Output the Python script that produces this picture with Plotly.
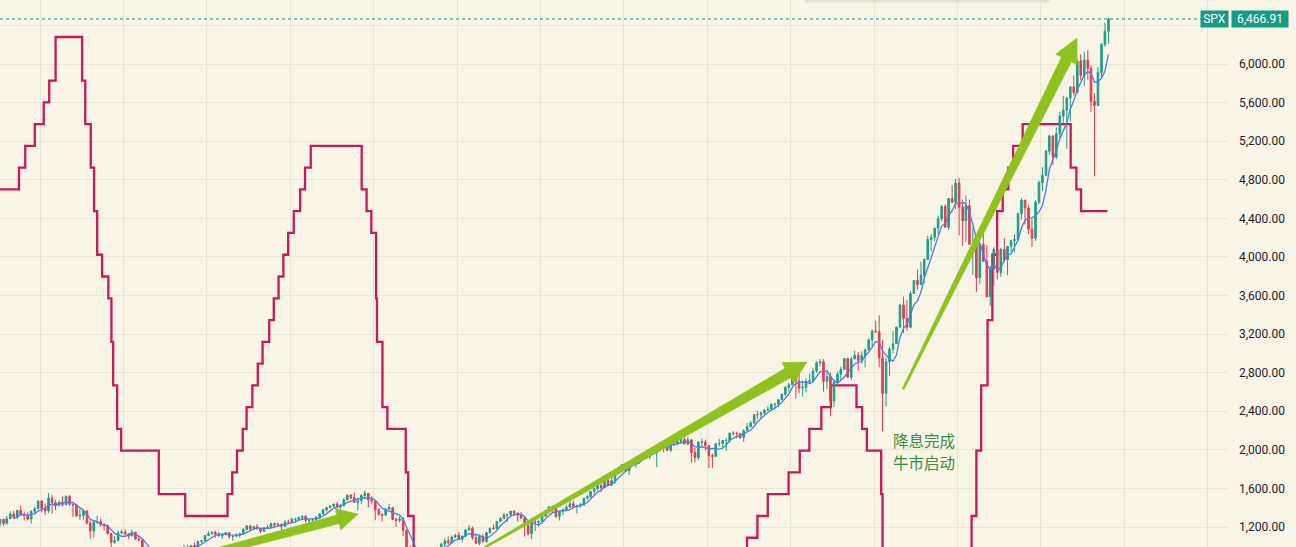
import pandas as pd
import plotly.graph_objects as go

# ---------------- data ----------------
first_open = 1229.2  # Dec-1998 close
close = [
    1279.6, 1238.3, 1286.4, 1335.2, 1301.8, 1372.7, 1328.7, 1320.4, 1282.7, 1362.9, 1388.9, 1469.3,
    1394.5, 1366.4, 1498.6, 1452.4, 1420.6, 1454.6, 1430.8, 1517.7, 1436.5, 1429.4, 1315.0, 1320.3,
    1366.0, 1239.9, 1160.3, 1249.5, 1255.8, 1224.4, 1211.2, 1133.6, 1040.9, 1059.8, 1139.5, 1148.1,
    1130.2, 1106.7, 1147.4, 1076.9, 1067.1, 989.8, 911.6, 916.1, 815.3, 885.8, 936.3, 879.8,
    855.7, 841.2, 848.2, 916.9, 963.6, 974.5, 990.3, 1008.0, 996.0, 1050.7, 1058.2, 1111.9,
    1131.1, 1144.9, 1126.2, 1107.3, 1120.7, 1140.8, 1101.7, 1104.2, 1114.6, 1130.2, 1173.8, 1211.9,
    1181.3, 1203.6, 1180.6, 1156.9, 1191.5, 1191.3, 1234.2, 1220.3, 1228.8, 1207.0, 1249.5, 1248.3,
    1280.1, 1280.7, 1294.9, 1310.6, 1270.1, 1270.2, 1276.7, 1303.8, 1335.9, 1377.9, 1400.6, 1418.3,
    1438.2, 1406.8, 1420.9, 1482.4, 1530.6, 1503.4, 1455.3, 1474.0, 1526.8, 1549.4, 1481.1, 1468.4,
    1378.6, 1330.6, 1322.7, 1385.6, 1400.4, 1280.0, 1267.4, 1282.8, 1166.4, 968.8, 896.2, 903.3,
    825.9, 735.1, 797.9, 872.8, 919.1, 919.3, 987.5, 1020.6, 1057.1, 1036.2, 1095.6, 1115.1,
    1073.9, 1104.5, 1169.4, 1186.7, 1089.4, 1030.7, 1101.6, 1049.3, 1141.2, 1183.3, 1180.6, 1257.6,
    1286.1, 1327.2, 1325.8, 1363.6, 1345.2, 1320.6, 1292.3, 1218.9, 1131.4, 1253.3, 1247.0, 1257.6,
    1312.4, 1365.7, 1408.5, 1397.9, 1310.3, 1362.2, 1379.3, 1406.6, 1440.7, 1412.2, 1416.2, 1426.2,
    1498.1, 1514.7, 1569.2, 1597.6, 1630.7, 1606.3, 1685.7, 1633.0, 1681.6, 1756.5, 1805.8, 1848.4,
    1782.6, 1859.5, 1872.3, 1883.9, 1923.6, 1960.2, 1930.7, 2003.4, 1972.3, 2018.1, 2067.6, 2058.9,
    1995.0, 2104.5, 2067.9, 2085.5, 2107.4, 2063.1, 2103.8, 1972.2, 1920.0, 2079.4, 2080.4, 2043.9,
    1940.2, 1932.2, 2059.7, 2065.3, 2096.9, 2098.9, 2173.6, 2170.9, 2168.3, 2126.2, 2198.8, 2238.8,
    2278.9, 2363.6, 2362.7, 2384.2, 2411.8, 2423.4, 2470.3, 2471.7, 2519.4, 2575.3, 2647.6, 2673.6,
    2823.8, 2713.8, 2640.9, 2648.1, 2705.3, 2718.4, 2816.3, 2901.5, 2914.0, 2711.7, 2760.2, 2506.9,
    2704.1, 2784.5, 2834.4, 2945.8, 2752.1, 2941.8, 2980.4, 2926.5, 2976.7, 3037.6, 3141.0, 3230.8,
    3225.5, 2954.2, 2584.6, 2912.4, 3044.3, 3100.3, 3271.1, 3500.3, 3363.0, 3270.0, 3621.6, 3756.1,
    3714.2, 3811.2, 3972.9, 4181.2, 4204.1, 4297.5, 4395.3, 4522.7, 4307.5, 4605.4, 4567.0, 4766.2,
    4515.6, 4373.9, 4530.4, 4131.9, 4132.2, 3785.4, 4130.3, 3955.0, 3585.6, 3872.0, 4080.1, 3839.5,
    4076.6, 3970.2, 4109.3, 4169.5, 4179.8, 4450.4, 4589.0, 4507.7, 4288.1, 4193.8, 4567.8, 4769.8,
    4845.7, 5096.3, 5254.4, 5035.7, 5277.5, 5460.5, 5522.3, 5648.4, 5762.5, 5705.5, 6032.4, 5881.6,
    6040.5, 5954.5, 5611.9, 5569.1, 5911.7, 6205.0, 6339.4, 6466.91,
]
high = [
    1283, 1283, 1316, 1362, 1368, 1376, 1421, 1360, 1358, 1373, 1410, 1474,
    1478, 1445, 1553, 1528, 1482, 1475, 1518, 1525, 1530, 1437, 1439, 1390,
    1384, 1376, 1267, 1270, 1316, 1287, 1239, 1226, 1139, 1110, 1163, 1173,
    1176, 1131, 1173, 1147, 1106, 1067, 994, 965, 924, 907, 952, 954,
    935, 864, 895, 924, 965, 1015, 1015, 1011, 1040, 1054, 1063, 1112,
    1155, 1158, 1163, 1150, 1128, 1146, 1141, 1109, 1131, 1142, 1188, 1217,
    1218, 1212, 1229, 1192, 1200, 1219, 1246, 1245, 1244, 1233, 1270, 1276,
    1295, 1297, 1311, 1319, 1326, 1284, 1281, 1306, 1340, 1390, 1407, 1431,
    1441, 1462, 1439, 1498, 1535, 1541, 1556, 1504, 1539, 1576, 1545, 1523,
    1471, 1396, 1340, 1397, 1440, 1405, 1293, 1313, 1303, 1167, 1007, 919,
    943, 876, 833, 878, 930, 957, 997, 1039, 1081, 1102, 1113, 1130,
    1150, 1113, 1181, 1220, 1205, 1131, 1120, 1129, 1150, 1196, 1228, 1263,
    1303, 1344, 1333, 1366, 1371, 1346, 1357, 1307, 1230, 1293, 1277, 1270,
    1333, 1378, 1420, 1422, 1415, 1363, 1392, 1427, 1475, 1471, 1434, 1448,
    1504, 1530, 1570, 1598, 1687, 1654, 1698, 1709, 1730, 1776, 1814, 1849,
    1851, 1868, 1884, 1897, 1925, 1968, 1991, 2006, 2019, 2019, 2075, 2094,
    2064, 2120, 2118, 2126, 2135, 2130, 2133, 2113, 2021, 2094, 2117, 2105,
    2044, 1962, 2073, 2112, 2100, 2121, 2178, 2194, 2188, 2170, 2215, 2278,
    2301, 2372, 2401, 2398, 2418, 2454, 2484, 2491, 2520, 2582, 2657, 2695,
    2873, 2836, 2801, 2718, 2742, 2791, 2848, 2917, 2941, 2940, 2815, 2800,
    2708, 2813, 2861, 2950, 2954, 2964, 3028, 3014, 3022, 3050, 3154, 3248,
    3338, 3394, 3136, 2955, 3068, 3233, 3280, 3514, 3588, 3550, 3646, 3760,
    3870, 3950, 3984, 4218, 4238, 4302, 4429, 4538, 4546, 4608, 4744, 4808,
    4819, 4595, 4637, 4594, 4307, 4178, 4141, 4325, 4120, 3906, 4100, 4101,
    4095, 4195, 4111, 4170, 4232, 4458, 4607, 4584, 4541, 4393, 4587, 4793,
    4932, 5111, 5265, 5264, 5342, 5506, 5670, 5651, 5768, 5879, 6054, 6100,
    6129, 6147, 5987, 5696, 5968, 6215, 6428, 6481,
]
low = [
    1205, 1212, 1226, 1282, 1281, 1281, 1323, 1268, 1268, 1233, 1342, 1387,
    1350, 1325, 1346, 1339, 1374, 1420, 1413, 1430, 1419, 1305, 1311, 1274,
    1275, 1228, 1081, 1091, 1232, 1203, 1165, 1124, 945, 1026, 1054, 1125,
    1101, 1074, 1106, 1064, 1049, 953, 776, 833, 815, 769, 872, 872,
    840, 807, 789, 847, 902, 962, 962, 960, 990, 995, 1032, 1055,
    1105, 1124, 1088, 1102, 1076, 1113, 1078, 1060, 1102, 1090, 1128, 1173,
    1163, 1180, 1176, 1137, 1146, 1188, 1183, 1201, 1201, 1169, 1201, 1246,
    1245, 1253, 1268, 1280, 1245, 1219, 1224, 1262, 1291, 1331, 1361, 1396,
    1403, 1390, 1364, 1416, 1476, 1484, 1454, 1371, 1439, 1490, 1407, 1435,
    1270, 1317, 1257, 1320, 1373, 1272, 1200, 1248, 1106, 840, 741, 815,
    805, 735, 667, 783, 866, 892, 869, 979, 993, 1020, 1029, 1086,
    1071, 1045, 1101, 1165, 1066, 1028, 1011, 1040, 1040, 1131, 1173, 1187,
    1257, 1290, 1249, 1303, 1312, 1258, 1283, 1101, 1114, 1075, 1159, 1202,
    1255, 1312, 1341, 1358, 1292, 1267, 1325, 1377, 1397, 1403, 1343, 1398,
    1426, 1485, 1501, 1536, 1581, 1560, 1605, 1627, 1633, 1646, 1746, 1767,
    1770, 1738, 1834, 1815, 1860, 1915, 1930, 1905, 1964, 1821, 2001, 1973,
    1988, 1980, 2039, 2048, 2067, 2056, 2044, 1867, 1872, 1893, 2019, 1993,
    1812, 1810, 1937, 2034, 2026, 1992, 2074, 2148, 2119, 2114, 2084, 2187,
    2234, 2266, 2322, 2329, 2353, 2405, 2407, 2417, 2446, 2515, 2557, 2605,
    2670, 2533, 2586, 2553, 2595, 2691, 2698, 2796, 2865, 2604, 2631, 2347,
    2444, 2681, 2722, 2848, 2750, 2728, 2952, 2822, 2892, 2856, 3030, 3070,
    3214, 2855, 2192, 2447, 2767, 2999, 3101, 3284, 3210, 3234, 3268, 3633,
    3662, 3725, 3723, 3992, 4057, 4165, 4233, 4367, 4305, 4279, 4560, 4495,
    4223, 4115, 4157, 4126, 3811, 3637, 3721, 3954, 3585, 3492, 3699, 3764,
    3794, 3944, 3809, 4049, 4048, 4167, 4385, 4335, 4238, 4104, 4167, 4547,
    4682, 4854, 5057, 4954, 5012, 5234, 5391, 5120, 5403, 5674, 5696, 5832,
    5773, 5837, 5505, 4835, 5578, 5861, 6178, 6212,
]

# Fed funds target rate (upper bound), change dates
rate_dates = [
    "1998-11-17", "1999-06-30", "1999-08-24", "1999-11-16", "2000-02-02", "2000-03-21", "2000-05-16",
    "2001-01-03", "2001-01-31", "2001-03-20", "2001-04-18", "2001-05-15", "2001-06-27", "2001-08-21",
    "2001-09-17", "2001-10-02", "2001-11-06", "2001-12-11", "2002-11-06", "2003-06-25",
    "2004-06-30", "2004-08-10", "2004-09-21", "2004-11-10", "2004-12-14", "2005-02-02", "2005-03-22",
    "2005-05-03", "2005-06-30", "2005-08-09", "2005-09-20", "2005-11-01", "2005-12-13", "2006-01-31",
    "2006-03-28", "2006-05-10", "2006-06-29", "2007-09-18", "2007-10-31", "2007-12-11", "2008-01-22",
    "2008-01-30", "2008-03-18", "2008-04-30", "2008-10-08", "2008-10-29", "2008-12-16",
    "2015-12-16", "2016-12-14", "2017-03-15", "2017-06-14", "2017-12-13", "2018-03-21", "2018-06-13",
    "2018-09-26", "2018-12-19", "2019-07-31", "2019-09-18", "2019-10-30", "2020-03-03", "2020-03-15",
    "2022-03-16", "2022-05-04", "2022-06-15", "2022-07-27", "2022-09-21", "2022-11-02", "2022-12-14",
    "2023-02-01", "2023-03-22", "2023-05-03", "2023-07-26", "2024-09-18", "2024-11-07", "2024-12-18",
    "2025-08-05",
]
rate_values = [
    4.75, 5.00, 5.25, 5.50, 5.75, 6.00, 6.50,
    6.00, 5.50, 5.00, 4.50, 4.00, 3.75, 3.50,
    3.00, 2.50, 2.00, 1.75, 1.25, 1.00,
    1.25, 1.50, 1.75, 2.00, 2.25, 2.50, 2.75,
    3.00, 3.25, 3.50, 3.75, 4.00, 4.25, 4.50,
    4.75, 5.00, 5.25, 4.75, 4.50, 4.25, 3.50,
    3.00, 2.25, 2.00, 1.50, 1.00, 0.25,
    0.50, 0.75, 1.00, 1.25, 1.50, 1.75, 2.00,
    2.25, 2.50, 2.25, 2.00, 1.75, 1.25, 0.25,
    0.50, 1.00, 1.75, 2.50, 3.25, 4.00, 4.50,
    4.75, 5.00, 5.25, 5.50, 5.00, 4.75, 4.50,
    4.50,
]

last_price = 6466.91
price_ticks = [1200, 1600, 2000, 2400, 2800, 3200, 3600, 4000, 4400, 4800, 5200, 5600, 6000, 6400]
# the 6,400 label sits under the last-price tag, so it is left blank
price_tick_text = [f"{v:,.2f}" for v in price_ticks[:-1]] + [""]

# drawn arrows (tail -> tip), in chart data units
arrow_tail_dates = ["2004-03-14", "2010-09-02", "2020-09-12"]
arrow_tail_prices = [941, 990, 2631]
arrow_tip_dates = ["2007-08-19", "2018-05-23", "2024-11-13"]
arrow_tip_prices = [1335, 2911, 6270]

note_lines = ["降息完成", "牛市启动"]
note_date = "2020-05-30"
note_prices = [2102, 1874]

# ---------------- styles ----------------
BG = "#F8F4E6"
GRID = "#E9E5D5"
UP = "#1F9E86"
DOWN = "#E8384F"
MA_COLOR = "#4C7BE8"
RATE_COLOR = "#C8195F"
ARROW = "#8DC21F"
TAG = "#149D84"

PLOT_W, PLOT_H = 1228, 547
x_range = ["1999-01-15", "2028-06-27"]
price_range = [992.7, 6663.5]
rate_range = [0.644, 6.925]

months = pd.date_range("1999-01-01", periods=len(close), freq="MS") + pd.Timedelta(days=14)
opens = [first_open] + close[:-1]
ma = pd.Series(close).rolling(5).mean()

fig = go.Figure()

# rate step line (base axis, hidden)
fig.add_trace(go.Scatter(
    x=rate_dates, y=rate_values, mode="lines", line=dict(color=RATE_COLOR, width=2.3, shape="hv"),
    xaxis="x", yaxis="y", hoverinfo="skip", showlegend=False))

# candles (overlay price axis)
fig.add_trace(go.Candlestick(
    x=months, open=opens, high=high, low=low, close=close,
    increasing=dict(line=dict(color=UP, width=1), fillcolor=UP),
    decreasing=dict(line=dict(color=DOWN, width=1), fillcolor=DOWN),
    whiskerwidth=0, xaxis="x", yaxis="y2", showlegend=False, hoverinfo="skip"))

fig.add_trace(go.Scatter(
    x=months, y=ma, mode="lines", line=dict(color=MA_COLOR, width=1.3),
    xaxis="x", yaxis="y2", hoverinfo="skip", showlegend=False))

# arrows
x0ms = pd.Timestamp(x_range[0]).value / 1e6
x1ms = pd.Timestamp(x_range[1]).value / 1e6


def to_px(date, price):
    ms = pd.Timestamp(date).value / 1e6
    return ((ms - x0ms) / (x1ms - x0ms) * PLOT_W,
            (price_range[1] - price) / (price_range[1] - price_range[0]) * PLOT_H)


def from_px(px, py):
    ms = x0ms + px / PLOT_W * (x1ms - x0ms)
    return (pd.to_datetime(ms, unit="ms"),
            price_range[1] - py / PLOT_H * (price_range[1] - price_range[0]))


arrow_styles = [  # tail width, shaft width at head, head width, head length (px)
    (7, 9, 22, 21),
    (2, 11, 24, 22),
    (2, 11, 24, 24),
]

for td, tp, hd, hp, (w0, w1, hw, hl) in zip(arrow_tail_dates, arrow_tail_prices,
                                            arrow_tip_dates, arrow_tip_prices, arrow_styles):
    ax_, ay_ = to_px(td, tp)
    bx_, by_ = to_px(hd, hp)
    dx, dy = bx_ - ax_, by_ - ay_
    L = (dx * dx + dy * dy) ** 0.5
    ux, uy = dx / L, dy / L
    nx, ny = -uy, ux
    cx, cy = bx_ - ux * hl, by_ - uy * hl
    pts = [
        (ax_ + nx * w0 / 2, ay_ + ny * w0 / 2),
        (cx + nx * w1 / 2, cy + ny * w1 / 2),
        (cx + nx * hw / 2, cy + ny * hw / 2),
        (bx_, by_),
        (cx - nx * hw / 2, cy - ny * hw / 2),
        (cx - nx * w1 / 2, cy - ny * w1 / 2),
        (ax_ - nx * w0 / 2, ay_ - ny * w0 / 2),
    ]
    pts.append(pts[0])
    conv = [from_px(px, py) for px, py in pts]
    fig.add_trace(go.Scatter(
        x=[c[0] for c in conv], y=[c[1] for c in conv], mode="lines", fill="toself",
        fillcolor=ARROW, line=dict(color=ARROW, width=0.5), xaxis="x", yaxis="y2",
        hoverinfo="skip", showlegend=False))

# last price dotted line
fig.add_shape(type="line", xref="paper", yref="y2", x0=0, x1=1, y0=last_price, y1=last_price,
              line=dict(color="#089981", width=1, dash="dot"), layer="above")

# faint toolbar shadow at the top
fig.add_shape(type="rect", xref="paper", yref="paper", x0=805 / PLOT_W, x1=1050 / PLOT_W,
              y0=1 - 2.5 / PLOT_H, y1=1.0, line=dict(width=0), fillcolor="#E6E2D6", layer="above")

annotations = []
for txt, pr in zip(note_lines, note_prices):
    annotations.append(dict(
        x=note_date, y=pr, xref="x", yref="y2", text=txt, showarrow=False,
        xanchor="left", yanchor="middle",
        font=dict(family="Noto Sans CJK SC", size=15.5, color="#3A8E3E")))

annotations.append(dict(
    x=1229 / PLOT_W, y=last_price, xref="paper", yref="y2", text="SPX", showarrow=False,
    xanchor="right", yanchor="middle", bgcolor=TAG, width=27, height=16, borderpad=0,
    font=dict(family="Roboto", size=12, color="white")))
annotations.append(dict(
    x=1231 / PLOT_W, y=last_price, xref="paper", yref="y2",
    text=f"{last_price:,.2f}", showarrow=False,
    xanchor="left", yanchor="middle", bgcolor=TAG, width=56, height=16, borderpad=0,
    font=dict(family="Roboto", size=12, color="white")))

fig.update_layout(
    width=1296, height=547,
    margin=dict(l=0, r=1296 - PLOT_W, t=0, b=0),
    paper_bgcolor=BG, plot_bgcolor=BG,
    showlegend=False,
    hovermode=False,
    annotations=annotations,
    xaxis=dict(type="date", range=x_range, showgrid=True, gridcolor=GRID, gridwidth=1,
               tick0="2000-01-01", dtick="M24", showticklabels=False, ticks="",
               zeroline=False, showline=False, rangeslider=dict(visible=False), fixedrange=True),
    yaxis=dict(range=rate_range, visible=False, showgrid=False, zeroline=False, fixedrange=True),
    yaxis2=dict(range=price_range, overlaying="y", side="right", showgrid=True, gridcolor=GRID,
                gridwidth=1, tickvals=price_ticks, ticktext=price_tick_text, ticks="",
                ticklabelstandoff=10, zeroline=False, showline=False, fixedrange=True,
                tickfont=dict(family="Roboto", size=12, color="#1E222D")),
)

fig.write_html("out.html", config={"displayModeBar": False},
               post_script="document.body.style.margin='0px';document.body.style.overflow='hidden';")
